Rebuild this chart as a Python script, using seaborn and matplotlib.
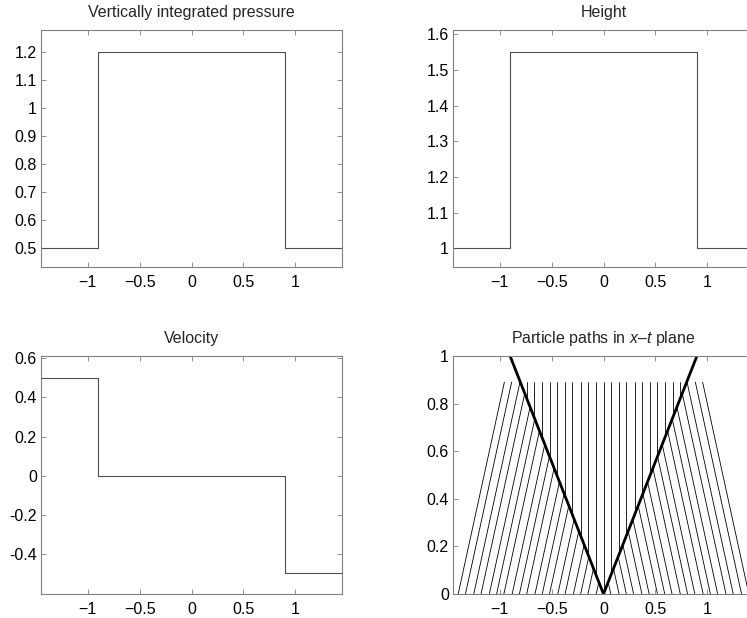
import numpy as np
import pandas as pd
import matplotlib
matplotlib.use("Agg")
import matplotlib.pyplot as plt
import seaborn as sns

# ---------------- data ----------------
x_domain = [-1.45, 1.45]
shock_pos = [-0.9, 0.9]          # shock positions at t = 1
pressure = [0.5, 1.2, 0.5]       # left, middle, right states
height = [1.0, 1.55, 1.0]
velocity = [0.5, 0.0, -0.5]

shock_speed = 0.9
t_shock_end = 1.0
t_path_end = 0.89

x_start_left = [-1.40, -1.33, -1.25, -1.18, -1.10, -1.03, -0.96, -0.88, -0.81,
                -0.74, -0.66, -0.59, -0.52, -0.44, -0.37, -0.29, -0.22, -0.15, -0.07]
x_start_right = [0.07, 0.15, 0.22, 0.29, 0.37, 0.44, 0.52, 0.59, 0.66, 0.74,
                 0.81, 0.88, 0.96, 1.03, 1.10, 1.18, 1.25, 1.33, 1.40]
x_vertical = [-0.74, -0.67, -0.59, -0.52, -0.45, -0.37, -0.30, -0.22, -0.15, -0.07,
              0.00, 0.07, 0.15, 0.22, 0.30, 0.37, 0.45, 0.52, 0.59, 0.67, 0.74]

xticks = [-1, -0.5, 0, 0.5, 1]
xtick_labels = ["\u22121", "\u22120.5", "0", "0.5", "1"]
p_yticks = [0.5, 0.6, 0.7, 0.8, 0.9, 1.0, 1.1, 1.2]
p_ylabels = ["0.5", "0.6", "0.7", "0.8", "0.9", "1", "1.1", "1.2"]
h_yticks = [1.0, 1.1, 1.2, 1.3, 1.4, 1.5, 1.6]
h_ylabels = ["1", "1.1", "1.2", "1.3", "1.4", "1.5", "1.6"]
u_yticks = [-0.4, -0.2, 0, 0.2, 0.4, 0.6]
u_ylabels = ["-0.4", "-0.2", "0", "0.2", "0.4", "0.6"]
t_yticks = [0, 0.2, 0.4, 0.6, 0.8, 1.0]
t_ylabels = ["0", "0.2", "0.4", "0.6", "0.8", "1"]

# ---------------- style ----------------
sns.set_style("ticks")
plt.rcParams["font.family"] = ["Liberation Sans", "DejaVu Sans"]
plt.rcParams["mathtext.fontset"] = "custom"
plt.rcParams["mathtext.it"] = "Liberation Sans:italic"
plt.rcParams["mathtext.rm"] = "Liberation Sans"

frame_col = "#808080"
line_col = "#505050"
fs = 11.5

fig = plt.figure(figsize=(7.47, 6.18), dpi=100)
W, H = 747.0, 618.0

def make_ax(l, t, w, h):
    return fig.add_axes([l / W, 1 - (t + h) / H, w / W, h / H])

ax_p = make_ax(41, 30, 301, 237)
ax_h = make_ax(453, 30, 301, 237)
ax_u = make_ax(41, 356, 301, 238)
ax_t = make_ax(453, 356, 301, 238)

def style(ax, yticks, ylabels, ylim, title):
    ax.set_xlim(*x_domain)
    ax.set_ylim(*ylim)
    ax.set_xticks(xticks)
    ax.set_xticklabels(xtick_labels)
    ax.set_yticks(yticks)
    ax.set_yticklabels(ylabels)
    for s in ax.spines.values():
        s.set_visible(True)
        s.set_color(frame_col)
        s.set_linewidth(0.8)
    ax.tick_params(direction="in", length=3.5, width=0.6, color=frame_col,
                   top=True, right=True, labelsize=fs, labelcolor="black")
    ax.tick_params(axis="x", pad=6)
    ax.tick_params(axis="y", pad=3)
    ax.set_title(title, fontsize=fs, pad=9)
    ax.set_xlabel("")
    ax.set_ylabel("")

def step_plot(ax, vals):
    xs = [x_domain[0], shock_pos[0], shock_pos[1], x_domain[1]]
    ys = [vals[0], vals[1], vals[2], vals[2]]
    sns.lineplot(x=xs, y=ys, ax=ax, drawstyle="steps-post", color=line_col,
                 linewidth=0.8, estimator=None, sort=False)

step_plot(ax_p, pressure)
style(ax_p, p_yticks, p_ylabels, (0.433, 1.277), "Vertically integrated pressure")

step_plot(ax_h, height)
style(ax_h, h_yticks, h_ylabels, (0.948, 1.612), "Height")

step_plot(ax_u, velocity)
style(ax_u, u_yticks, u_ylabels, (-0.605, 0.612), "Velocity")

# particle paths
rows = []
pid = 0
for x0 in x_start_left:
    th = min(-x0 / (velocity[0] + shock_speed), t_path_end)
    rows += [(pid, x0, 0.0), (pid, x0 + velocity[0] * th, th)]
    pid += 1
for x0 in x_start_right:
    th = min(x0 / (-velocity[2] + shock_speed), t_path_end)
    rows += [(pid, x0, 0.0), (pid, x0 + velocity[2] * th, th)]
    pid += 1
for xv in x_vertical:
    t0 = abs(xv) / shock_speed
    rows += [(pid, xv, t0), (pid, xv, t_path_end)]
    pid += 1
paths = pd.DataFrame(rows, columns=["id", "x", "t"])
sns.lineplot(data=paths, x="x", y="t", units="id", estimator=None, sort=False,
             color="black", linewidth=0.6, ax=ax_t)

shocks = pd.DataFrame({
    "id": [0, 0, 1, 1],
    "x": [0.0, -shock_speed * t_shock_end, 0.0, shock_speed * t_shock_end],
    "t": [0.0, t_shock_end, 0.0, t_shock_end],
})
sns.lineplot(data=shocks, x="x", y="t", units="id", estimator=None, sort=False,
             color="black", linewidth=2.0, ax=ax_t, solid_capstyle="butt")
style(ax_t, t_yticks, t_ylabels, (0, 1), "Particle paths in $x$\u2013$t$ plane")

fig.savefig("out.png", dpi=100)
